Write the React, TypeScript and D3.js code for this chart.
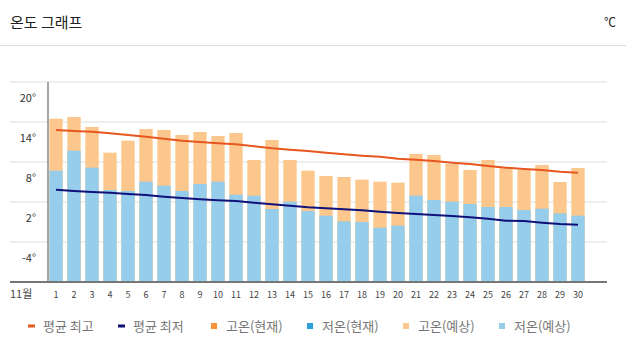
import React, { useEffect, useRef } from "react";
import * as d3 from "d3";

const days = d3.range(1, 31).map(String);
const highValues = [14.5, 14.75, 13.25, 9.4, 11.2, 12.95, 12.8, 12.05, 12.5, 11.9, 12.35, 8.3, 11.3, 8.3, 6.7, 5.9, 5.75, 5.35, 5.05, 4.9, 9.2, 9.05, 7.7, 6.8, 8.3, 7.05, 6.8, 7.55, 5.0, 7.1];
const lowValues = [6.7, 9.7, 7.15, 3.8, 3.65, 5.05, 4.45, 3.65, 4.7, 5.05, 3.1, 2.95, 0.95, 2.05, 0.65, -0.05, -0.9, -1.0, -1.85, -1.55, 2.95, 2.3, 2.05, 1.7, 1.25, 1.25, 0.8, 1.0, 0.3, -0.05];
const avgHigh = [12.8, 12.65, 12.55, 12.3, 12.05, 11.8, 11.5, 11.2, 11.0, 10.8, 10.65, 10.35, 10.05, 9.85, 9.65, 9.4, 9.15, 8.95, 8.8, 8.5, 8.35, 8.15, 7.9, 7.7, 7.4, 7.15, 6.95, 6.8, 6.55, 6.4];
const avgLow = [3.85, 3.65, 3.5, 3.4, 3.2, 3.05, 2.8, 2.6, 2.4, 2.25, 2.15, 1.9, 1.65, 1.45, 1.2, 1.05, 0.9, 0.75, 0.55, 0.35, 0.2, 0.05, -0.1, -0.3, -0.5, -0.8, -0.85, -1.1, -1.3, -1.4];
const yTicks = [20, 14, 8, 2, -4];
const legendItems = [
  { label: "평균 최고", color: "#e8561f", kind: "line" },
  { label: "평균 최저", color: "#11117a", kind: "line" },
  { label: "고온(현재)", color: "#f7923a", kind: "box" },
  { label: "저온(현재)", color: "#2f9fd7", kind: "box" },
  { label: "고온(예상)", color: "#fbc78c", kind: "box" },
  { label: "저온(예상)", color: "#95cdea", kind: "box" },
];

const width = 626;
const height = 354;
const font = "'Noto Sans CJK KR', 'Noto Sans', sans-serif";

export default function App() {
  const ref = useRef<SVGSVGElement>(null);

  useEffect(() => {
    const svg = d3.select(ref.current);
    svg.selectAll("*").remove();

    // titre
    svg.append("text").attr("x", 10).attr("y", 28)
      .attr("font-family", font).attr("font-size", 15).attr("fill", "#222")
      .text("온도 그래프");
    svg.append("text").attr("x", 616).attr("y", 27).attr("text-anchor", "end")
      .attr("font-family", font).attr("font-size", 12).attr("fill", "#222")
      .text("℃");
    svg.append("line").attr("x1", 0).attr("x2", width).attr("y1", 45.5).attr("y2", 45.5)
      .attr("stroke", "#dcdcdc").attr("stroke-width", 1);

    const x = d3.scaleBand().domain(days).range([47, 587]).paddingInner(0.26).paddingOuter(0.13);
    const y = d3.scaleLinear().domain([-10, 20]).range([282, 82]);

    // grille
    svg.append("g").selectAll("line").data(yTicks).enter().append("line")
      .attr("x1", 10).attr("x2", 607)
      .attr("y1", (d) => y(d)).attr("y2", (d) => y(d))
      .attr("stroke", "#eeeeee").attr("stroke-width", 2);

    svg.append("g").selectAll("text").data(yTicks).enter().append("text")
      .attr("x", 36).attr("y", (d) => y(d) + 20)
      .attr("text-anchor", "end")
      .attr("font-family", font).attr("font-size", 11).attr("fill", "#333")
      .text((d) => `${d}°`);

    // barres
    svg.append("g").selectAll("rect").data(highValues).enter().append("rect")
      .attr("x", (d, i) => x(days[i])!).attr("width", x.bandwidth())
      .attr("y", (d) => y(d)).attr("height", (d) => y(-10) - y(d))
      .attr("fill", "#fbc78c");
    svg.append("g").selectAll("rect").data(lowValues).enter().append("rect")
      .attr("x", (d, i) => x(days[i])!).attr("width", x.bandwidth())
      .attr("y", (d) => y(d)).attr("height", (d) => y(-10) - y(d))
      .attr("fill", "#95cdea");

    const line = d3.line<number>()
      .x((d, i) => x(days[i])! + x.bandwidth() / 2)
      .y((d) => y(d));
    svg.append("path").attr("d", line(avgHigh)).attr("fill", "none")
      .attr("stroke", "#e8561f").attr("stroke-width", 2);
    svg.append("path").attr("d", line(avgLow)).attr("fill", "none")
      .attr("stroke", "#11117a").attr("stroke-width", 2);

    // axes
    svg.append("line").attr("x1", 48).attr("x2", 48).attr("y1", 82).attr("y2", 282)
      .attr("stroke", "#888").attr("stroke-width", 1.5);
    svg.append("line").attr("x1", 10).attr("x2", 607).attr("y1", 282).attr("y2", 282)
      .attr("stroke", "#777").attr("stroke-width", 2);

    svg.append("g").selectAll("text").data(days).enter().append("text")
      .attr("x", (d) => x(d)! + x.bandwidth() / 2).attr("y", 298)
      .attr("text-anchor", "middle")
      .attr("font-family", font).attr("font-size", 9).attr("fill", "#444")
      .text((d) => d);
    svg.append("text").attr("x", 10).attr("y", 298)
      .attr("font-family", font).attr("font-size", 11).attr("fill", "#444")
      .text("11월");

    // légende
    const positions = [28, 118, 211, 307, 403, 499];
    const leg = svg.append("g").selectAll("g").data(legendItems).enter().append("g")
      .attr("transform", (d, i) => `translate(${positions[i]},326)`);
    leg.filter((d) => d.kind === "line").append("rect")
      .attr("x", 0).attr("y", -1.5).attr("width", 7).attr("height", 3)
      .attr("fill", (d) => d.color);
    leg.filter((d) => d.kind === "box").append("rect")
      .attr("x", 0).attr("y", -3).attr("width", 6).attr("height", 6)
      .attr("fill", (d) => d.color);
    leg.append("text").attr("x", 15).attr("y", 4.5)
      .attr("font-family", font).attr("font-size", 13).attr("fill", "#777")
      .text((d) => d.label);
  }, []);

  return (
    <svg ref={ref} width={width} height={height}
      style={{ position: "absolute", left: 0, top: 0, background: "#fff" }} />
  );
}
